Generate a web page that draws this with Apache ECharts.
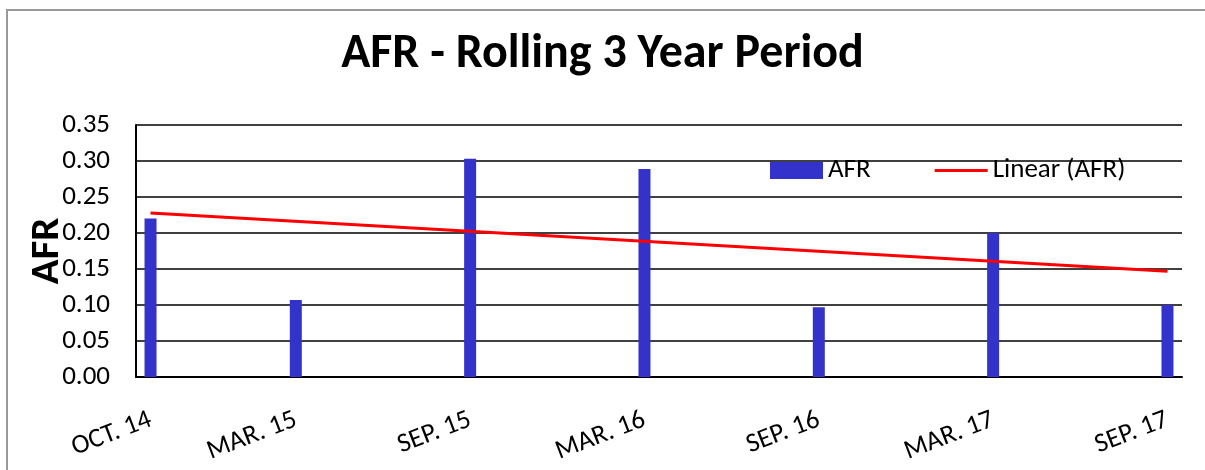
<!DOCTYPE html>
<html>
<head>
<meta charset="utf-8">
<script src="https://cdn.jsdelivr.net/npm/echarts@6/dist/echarts.min.js"></script>
<style>
html,body{margin:0;padding:0;background:#fff;}
#chart{width:1205px;height:470px;}
</style>
</head>
<body>
<div id="chart"></div>
<script>
// Data
const periodLabels = ['OCT. 14', 'MAR. 15', 'SEP. 15', 'MAR. 16', 'SEP. 16', 'MAR. 17', 'SEP. 17'];
const afrValues = [0.220, 0.107, 0.303, 0.289, 0.097, 0.200, 0.100];
const yTicks = ['0.00', '0.05', '0.10', '0.15', '0.20', '0.25', '0.30', '0.35'];

// Monthly slots of the date axis (Oct 2014 .. Sep 2017)
const monthNames = ['JAN', 'FEB', 'MAR', 'APR', 'MAY', 'JUN', 'JUL', 'AUG', 'SEP', 'OCT', 'NOV', 'DEC'];
const months = [];
for (let i = 0; i < 36; i++) {
  const m = (9 + i) % 12;
  const y = 14 + Math.floor((9 + i) / 12);
  months.push(monthNames[m] + '. ' + y);
}
const xIdx = periodLabels.map(l => months.indexOf(l));

// Linear trendline (least squares over the date axis)
const n = afrValues.length;
const mx = xIdx.reduce((a, b) => a + b, 0) / n;
const my = afrValues.reduce((a, b) => a + b, 0) / n;
let sxy = 0, sxx = 0;
for (let i = 0; i < n; i++) { sxy += (xIdx[i] - mx) * (afrValues[i] - my); sxx += (xIdx[i] - mx) ** 2; }
const slope = sxy / sxx, icpt = my - slope * mx;
const trend = [0, n - 1].map(i => [periodLabels[i], icpt + slope * xIdx[i]]);

const FONT = 'Carlito, "Liberation Sans", sans-serif';
const chart = echarts.init(document.getElementById('chart'));
chart.setOption({
  animation: false,
  backgroundColor: '#fff',
  textStyle: { fontFamily: FONT, color: '#000' },
  title: {
    text: 'AFR - Rolling 3 Year Period',
    left: 'center', top: 26,
    textStyle: { fontFamily: FONT, fontSize: 48, fontWeight: 'bold', color: '#000' }
  },
  graphic: [{
    type: 'rect', silent: true, z: -1,
    shape: { x: 7, y: 10, width: 1400, height: 800 },
    style: { fill: 'none', stroke: '#999', lineWidth: 2 }
  }],
  legend: {
    left: 765, top: 152,
    itemWidth: 53, itemHeight: 17, itemGap: 64,
    symbolKeepAspect: true,
    textStyle: { fontFamily: FONT, fontSize: 27, color: '#000' },
    data: [
      { name: 'AFR', icon: 'rect' },
      { name: 'Linear (AFR)', icon: 'path://M0,0H53V3H0Z' }
    ]
  },
  grid: { left: 136, right: 23, top: 125, bottom: 93, containLabel: false },
  xAxis: {
    type: 'category',
    data: months,
    boundaryGap: true,
    axisLine: { show: true, lineStyle: { color: '#000', width: 2 } },
    axisTick: { show: false },
    axisLabel: {
      interval: (i, v) => periodLabels.indexOf(v) >= 0,
      rotate: 21, margin: 42,
      fontFamily: FONT, fontSize: 27, color: '#000'
    },
    splitLine: { show: false }
  },
  yAxis: {
    type: 'value',
    min: 0, max: 0.35, interval: 0.05,
    name: 'AFR', nameLocation: 'middle', nameGap: 68,
    nameMoveOverlap: false,
    nameTextStyle: { fontFamily: FONT, fontSize: 41, fontWeight: 'bold', color: '#000' },
    axisLine: { show: true, lineStyle: { color: '#000', width: 2 } },
    axisTick: { show: false },
    axisLabel: {
      margin: 26, fontFamily: FONT, fontSize: 27, color: '#000',
      formatter: v => yTicks[Math.round(v / 0.05)]
    },
    splitLine: { show: true, lineStyle: { color: '#000', width: 1.5 } }
  },
  series: [
    {
      name: 'AFR', type: 'bar',
      data: periodLabels.map((l, i) => [l, afrValues[i]]),
      barWidth: 12,
      itemStyle: { color: '#3333CC' }
    },
    {
      name: 'Linear (AFR)', type: 'line',
      data: trend,
      symbol: 'none',
      lineStyle: { color: '#FF0000', width: 3 },
      itemStyle: { color: '#FF0000' },
      z: 3
    }
  ]
});
</script>
</body>
</html>
